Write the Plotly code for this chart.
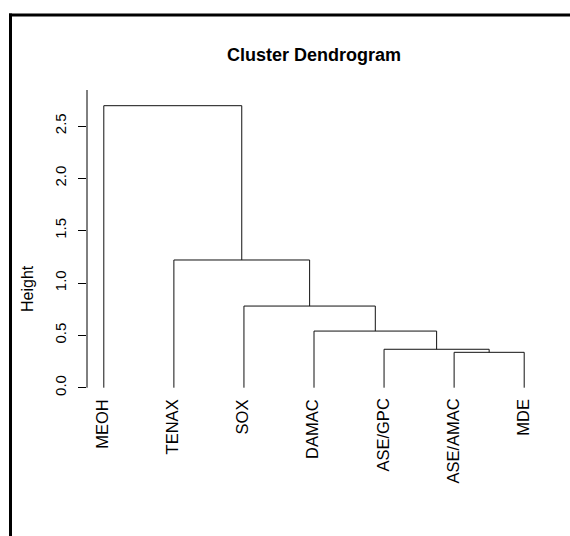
import plotly.graph_objects as go

# Leaf labels and hierarchical merges (R hclust convention:
# negative = leaf index (1-based), positive = earlier merge step)
labels = ["MEOH", "TENAX", "SOX", "DAMAC", "ASE/GPC", "ASE/AMAC", "MDE"]
merge_left = [-6, -5, -4, -3, -2, -1]
merge_right = [-7, 1, 2, 3, 4, 5]
merge_height = [0.338, 0.367, 0.541, 0.780, 1.220, 2.694]
y_ticks = [0.0, 0.5, 1.0, 1.5, 2.0, 2.5]

W, H = 570, 536
L, R, T, B = 87, 29, 90, 137
X_RANGE = [0.76, 7.24]
Y_RANGE = [-0.108, 2.844]
FONT = "Liberation Sans, Arial, Helvetica, sans-serif"


def px_x(px):
    return (px - L) / (W - L - R)


def px_y(py):
    return 1 - (py - T) / (H - T - B)


# leaf x positions follow the label order
leaf_x = {i + 1: float(i + 1) for i in range(len(labels))}
node_pos = {}  # merge step -> (x, height)


def pos(ref):
    if ref < 0:
        return leaf_x[-ref], 0.0
    return node_pos[ref]


xs, ys = [], []
for step, (a, b, h) in enumerate(zip(merge_left, merge_right, merge_height), start=1):
    xa, ha = pos(a)
    xb, hb = pos(b)
    xs += [xa, xa, xb, xb, None]
    ys += [ha, h, h, hb, None]
    node_pos[step] = ((xa + xb) / 2, h)

fig = go.Figure()
fig.add_trace(go.Scatter(x=xs, y=ys, mode="lines",
                         line=dict(color="#111111", width=1),
                         hoverinfo="skip", showlegend=False))

annotations = []
for i, lab in enumerate(labels):
    annotations.append(dict(
        x=leaf_x[i + 1], y=px_y(398), xref="x", yref="paper",
        text=lab, textangle=-90, showarrow=False,
        xanchor="center", yanchor="top", borderpad=0, xshift=-2,
        font=dict(family=FONT, size=16.5, color="black")))

annotations.append(dict(
    x=px_x(27), y=px_y(289), xref="paper", yref="paper",
    text="Height", textangle=-90, showarrow=False,
    xanchor="center", yanchor="middle", borderpad=0,
    font=dict(family=FONT, size=16, color="black")))

shapes = [
    # y axis line
    dict(type="line", xref="paper", yref="y", x0=0, x1=0,
         y0=0, y1=Y_RANGE[1], line=dict(color="black", width=1)),
    # outer frame (top and left)
    dict(type="line", xref="paper", yref="paper",
         x0=px_x(9), x1=px_x(W + 5), y0=px_y(15), y1=px_y(15),
         line=dict(color="black", width=3)),
    dict(type="line", xref="paper", yref="paper",
         x0=px_x(10.5), x1=px_x(10.5), y0=px_y(13.5), y1=px_y(H + 5),
         line=dict(color="black", width=3)),
]

fig.update_layout(
    width=W, height=H,
    margin=dict(l=L, r=R, t=T, b=B, pad=0),
    paper_bgcolor="white", plot_bgcolor="white",
    title=dict(text="<b>Cluster Dendrogram</b>", xref="paper", x=0.5,
               yref="container", y=1 - 55 / H, xanchor="center", yanchor="middle",
               font=dict(family=FONT, size=18, color="black")),
    xaxis=dict(range=X_RANGE, showgrid=False, zeroline=False, showline=False,
               showticklabels=False, ticks=""),
    yaxis=dict(range=Y_RANGE, showgrid=False, zeroline=False, showline=False,
               tickmode="array", tickvals=y_ticks,
               ticktext=[f"{v:.1f}" for v in y_ticks],
               ticks="outside", ticklen=8, tickwidth=1, tickcolor="black",
               tickangle=-90, ticklabelstandoff=6,
               tickfont=dict(family=FONT, size=15, color="black")),
    annotations=annotations,
    shapes=shapes,
)

fig.write_html("out.html")
